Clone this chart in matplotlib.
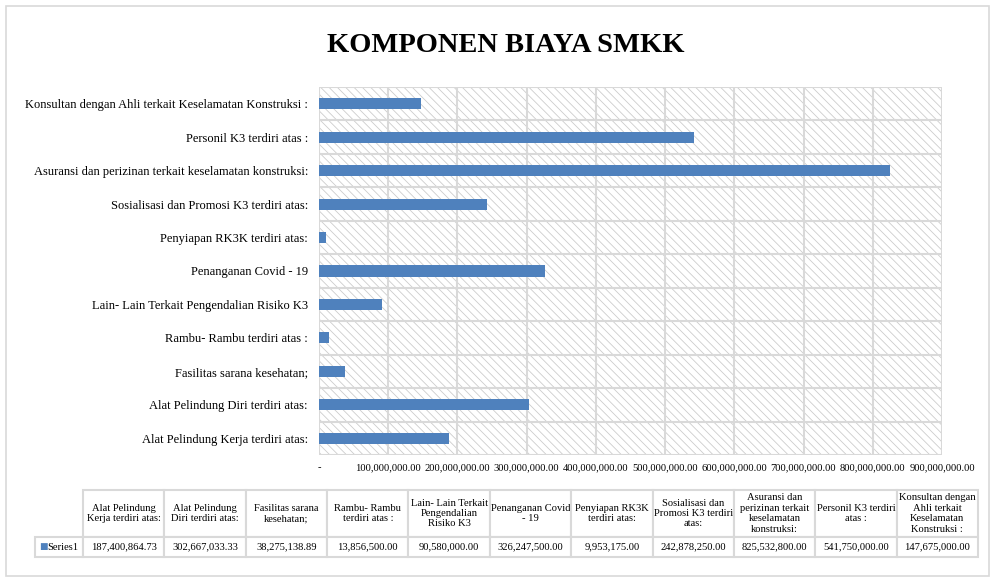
import matplotlib
matplotlib.use("Agg")
import matplotlib.pyplot as plt
from matplotlib.patches import Rectangle
import numpy as np

categories = [
    "Alat Pelindung Kerja terdiri atas:",
    "Alat Pelindung Diri terdiri atas:",
    "Fasilitas sarana kesehatan;",
    "Rambu- Rambu terdiri atas :",
    "Lain- Lain Terkait Pengendalian Risiko K3",
    "Penanganan Covid - 19",
    "Penyiapan RK3K terdiri atas:",
    "Sosialisasi dan Promosi K3 terdiri atas:",
    "Asuransi dan perizinan terkait keselamatan konstruksi:",
    "Personil K3 terdiri atas :",
    "Konsultan dengan Ahli terkait Keselamatan Konstruksi :",
]
table_headers = [
    "Alat Pelindung\nKerja terdiri atas:",
    "Alat Pelindung\nDiri terdiri atas:",
    "Fasilitas sarana\nkesehatan;",
    "Rambu- Rambu\nterdiri atas :",
    "Lain- Lain Terkait\nPengendalian\nRisiko K3",
    "Penanganan Covid\n- 19",
    "Penyiapan RK3K\nterdiri atas:",
    "Sosialisasi dan\nPromosi K3 terdiri\natas:",
    "Asuransi dan\nperizinan terkait\nkeselamatan\nkonstruksi:",
    "Personil K3 terdiri\natas :",
    "Konsultan dengan\nAhli terkait\nKeselamatan\nKonstruksi :",
]
values = [187400864.73, 302667033.33, 38275138.89, 13856500.00, 90580000.00,
          326247500.00, 9953175.00, 242878250.00, 825532800.00, 541750000.00,
          147675000.00]
series_name = "Series1"
title = "KOMPONEN BIAYA SMKK"
x_ticks = [0, 100e6, 200e6, 300e6, 400e6, 500e6, 600e6, 700e6, 800e6, 900e6]

plt.rcParams['font.family'] = ['Liberation Serif', 'DejaVu Serif']
plt.rcParams['hatch.linewidth'] = 0.6
plt.rcParams['hatch.color'] = '#cccccc'

W, H = 992, 579
fig = plt.figure(figsize=(W / 100, H / 100), dpi=100)

# outer frame
fig.patches.append(Rectangle((6 / W, 3 / H), (W - 9) / W, (H - 9) / H,
                             transform=fig.transFigure, fill=False,
                             edgecolor='#d9d9d9', linewidth=1.2))

fig.text(0.51, (579 - 46) / H, title, ha='center', va='center',
         fontsize=20.5, fontweight='bold', family=['Liberation Serif'])

ax = fig.add_axes([319 / W, (H - 455) / H, (942 - 319) / W, (455 - 87) / H])
ax.set_facecolor('white')
ax.add_patch(Rectangle((0, 0), 1, 1, transform=ax.transAxes, facecolor='white',
                       edgecolor='#cccccc', hatch='\\\\\\\\', linewidth=0, zorder=0))
y = np.arange(len(categories))
ax.barh(y, values, height=0.33, color='#4f81bd', zorder=3)
ax.set_xlim(0, 900e6)
ax.set_ylim(-0.5, len(categories) - 0.5)
ax.set_yticks(y)
ax.set_yticklabels(categories, fontsize=9)
ax.set_xticks(x_ticks)
ax.set_xticklabels(['-' if v == 0 else f"{v:,.2f}" for v in x_ticks], fontsize=7.6)
ax.set_yticks(np.arange(len(categories) + 1) - 0.5, minor=True)
ax.tick_params(axis='both', length=0, which='both')
ax.tick_params(axis='y', pad=8)
ax.tick_params(axis='x', pad=6)
ax.grid(axis='x', color='#d9d9d9', linewidth=1.5, zorder=1)
ax.grid(axis='y', which='minor', color='#d9d9d9', linewidth=1.5, zorder=1)
ax.grid(axis='y', which='major', visible=False)
for s in ax.spines.values():
    s.set_visible(False)
ax.set_axisbelow(True)

# data table
tax = fig.add_axes([35 / W, (H - 557) / H, (978 - 35) / W, (557 - 490) / H])
tax.axis('off')
cell_text = [[""] + table_headers,
             [""] + [f"{v:,.2f}" for v in values]]
tbl = tax.table(cellText=cell_text, bbox=[0, 0, 1, 1], cellLoc='center')
tbl.auto_set_font_size(False)
first_w = 48
col_w = (978 - 35 - first_w) / len(values)
for (r, c), cell in tbl.get_celld().items():
    cell.set_edgecolor('#d9d9d9')
    cell.set_linewidth(1.5)
    cell.set_height(47 if r == 0 else 20)
    cell.set_width(first_w if c == 0 else col_w)
    cell.get_text().set_fontsize(7.6)
    if r == 0 and c == 0:
        cell.visible_edges = ''
fig.text(39 / W, (H - 547) / H, "\u25a0", color='#4f81bd', fontsize=6.5,
         va='center', ha='left', family=['DejaVu Sans'])
fig.text(47 / W, (H - 547) / H, series_name, fontsize=7.6,
         va='center', ha='left')

fig.savefig("out.png", dpi=100)
